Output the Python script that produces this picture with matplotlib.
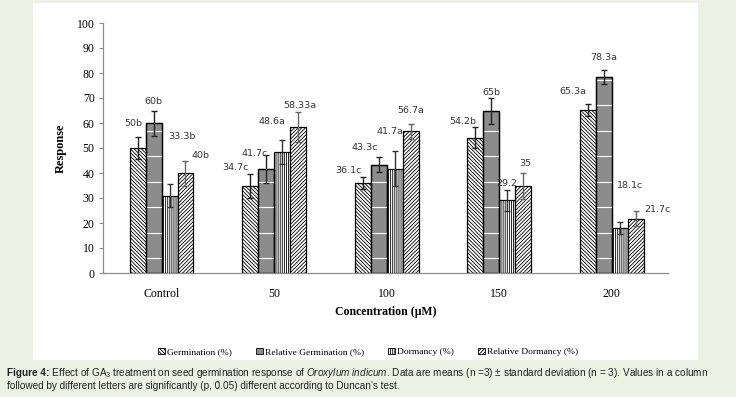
import numpy as np
import matplotlib.pyplot as plt
from matplotlib.patches import Rectangle, Patch

plt.rcParams['hatch.linewidth'] = 0.6
plt.rcParams['mathtext.fontset'] = 'custom'
plt.rcParams['mathtext.rm'] = 'Liberation Sans'
plt.rcParams['mathtext.it'] = 'Liberation Sans:italic'
plt.rcParams['mathtext.bf'] = 'Liberation Sans:bold'

# ---------------- data ----------------
categories = ["Control", "50", "100", "150", "200"]
series_names = ["Germination (%)", "Relative Germination (%)", "Dormancy (%)", "Relative Dormancy (%)"]

germination = [50, 34.7, 36.1, 54.2, 65.3]
rel_germination = [60, 41.7, 43.3, 65, 78.3]
dormancy = [31, 48.6, 41.7, 29.2, 18.1]
rel_dormancy = [40, 58.33, 56.7, 35, 21.7]

germination_sd = [4.3, 4.8, 2.5, 4.3, 2.5]
rel_germination_sd = [5, 5.5, 3, 5.2, 2.8]
dormancy_sd = [4.5, 4.8, 7, 4.2, 2.5]
rel_dormancy_sd = [5, 6, 3, 5.2, 3]

germination_labels = ["50b", "34.7c", "36.1c", "54.2b", "65.3a"]
rel_germination_labels = ["60b", "41.7c", "43.3c", "65b", "78.3a"]
dormancy_labels = ["33.3b", "48.6a", "41.7a", "29.2", "18.1c"]
rel_dormancy_labels = ["40b", "58.33a", "56.7a", "35", "21.7c"]

# ---------------- layout / style ----------------
label_dx = [
    [-0.253, -0.347, -0.342, -0.32, -0.342],
    [-0.076, -0.169, -0.191, -0.071, -0.067],
    [0.182, -0.018, 0.031, 0.071, 0.164],
    [0.342, 0.231, 0.218, 0.231, 0.404],
]
label_y = [
    [59.8, 42, 41, 60.5, 72.7],
    [68.4, 47.7, 50.4, 72.3, 86],
    [54.7, 60.8, 56.4, 35.7, 35],
    [47, 67, 65, 43.6, 25.6],
]
facecolors = ["white", "#8c8c8c", "white", "white"]
hatches = ["\\" * 9, None, "|" * 8, "/" * 9]
err_colors = ["#222222", "#222222", "#333333", "#666666"]

values = [germination, rel_germination, dormancy, rel_dormancy]
sds = [germination_sd, rel_germination_sd, dormancy_sd, rel_dormancy_sd]
labels = [germination_labels, rel_germination_labels, dormancy_labels, rel_dormancy_labels]

bg = "#ECF1E4"
fig = plt.figure(figsize=(7.36, 3.97), dpi=100, facecolor=bg)
panel = Rectangle((33 / 736, 1 - 360 / 397), (698 - 33) / 736, (360 - 3) / 397,
                  transform=fig.transFigure, facecolor="white", edgecolor="none", zorder=-10)
fig.patches.append(panel)

ax = fig.add_axes([103 / 736, 124 / 397, 565 / 736, 250 / 397])
ax.set_zorder(2)
ax.set_facecolor("none")

x = np.arange(len(categories))
w = 0.142
offsets = [-1.5 * w, -0.5 * w, 0.5 * w, 1.5 * w]

for i in range(4):
    bars = ax.bar(x + offsets[i], values[i], width=w, color=facecolors[i], edgecolor="black",
                  linewidth=0.9, hatch=hatches[i], zorder=2)
    ax.errorbar(x + offsets[i], values[i], yerr=sds[i], fmt="none", ecolor=err_colors[i],
                elinewidth=1.0, capsize=2.5, capthick=1.0, zorder=4)
    if i == 1:
        # white horizontal pattern lines inside the solid grey bars
        for b in bars:
            for yy in np.arange(6, b.get_height(), 10.2):
                ax.plot([b.get_x(), b.get_x() + b.get_width()], [yy, yy], color="white",
                        lw=0.8, zorder=3, solid_capstyle="butt")
            ax.add_patch(Rectangle((b.get_x(), 0), b.get_width(), b.get_height(), fill=False,
                                   edgecolor="black", linewidth=0.9, zorder=3.5))
    for j in range(len(categories)):
        ax.text(x[j] + label_dx[i][j], label_y[i][j], labels[i][j], ha="center", va="center",
                fontsize=6.8, color="#333333", family="DejaVu Sans", zorder=5)

ax.set_xlim(-0.52, 4.5)
ax.set_ylim(0, 100)
ax.set_yticks(np.arange(0, 101, 10))
ax.set_xticks(x)
ax.set_xticklabels(categories)
for s in ["top", "right"]:
    ax.spines[s].set_visible(False)
for s in ["left", "bottom"]:
    ax.spines[s].set_color("#8c8c8c")
    ax.spines[s].set_linewidth(0.9)
ax.tick_params(axis="x", length=0, pad=11, labelsize=8.5)
ax.tick_params(axis="y", length=3, color="#8c8c8c", pad=3, labelsize=8.5)
for t in ax.get_xticklabels() + ax.get_yticklabels():
    t.set_family("Liberation Serif")

ax.set_ylabel("Response", fontsize=9, fontweight="bold", family="Liberation Serif", labelpad=7)
ax.set_xlabel("Concentration (\u00b5M)", fontsize=8.5, fontweight="bold", family="Liberation Serif",
              labelpad=4)

handles = [Patch(facecolor=facecolors[i], edgecolor="black", hatch=hatches[i], linewidth=0.6)
           for i in range(4)]
fig.legend(handles, series_names, loc="center", bbox_to_anchor=(368 / 736, 1 - 352 / 397),
           ncol=4, frameon=False, handlelength=0.7, handleheight=0.7, handletextpad=0.2,
           columnspacing=2.6, prop={"family": "Liberation Serif", "size": 6.8})

# caption: bold lead-in, then the rest placed right after it
cap_bold = "Figure 4:"
cap1 = (r" Effect of GA$_3$ treatment on seed germination response of "
        r"$\mathit{Oroxylum\ indicum}$. Data are means (n =3) " + "\u00b1" +
        " standard deviation (n = 3). Values in a column")
cap2 = "followed by different letters are significantly (p, 0.05) different according to Duncan\u2019s test."
tb = fig.text(7 / 736, 1 - 376 / 397, cap_bold, ha="left", va="baseline", fontsize=7.2,
              family="Liberation Sans", fontweight="bold", color="#222222")
fig.canvas.draw()
bb = tb.get_window_extent()
fig.text(bb.x1 / fig.bbox.width, 1 - 376 / 397, cap1, ha="left", va="baseline", fontsize=7.2,
         family="Liberation Sans", color="#222222")
fig.text(7 / 736, 1 - 389 / 397, cap2, ha="left", va="baseline", fontsize=7.2,
         family="Liberation Sans", color="#222222")

fig.savefig("out.png", dpi=100, facecolor=bg)
